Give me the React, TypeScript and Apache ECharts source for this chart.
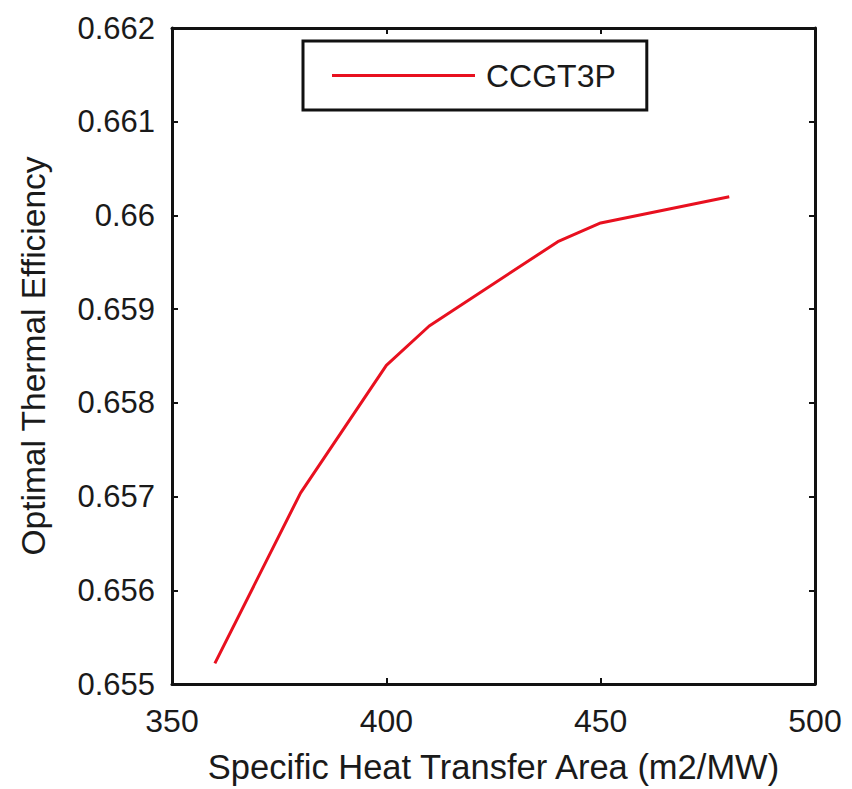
import React, { useEffect, useRef } from "react";
import * as echarts from "echarts";

const xValues = [360, 380, 400, 410, 440, 450, 480];
const efficiency = [0.65522, 0.65704, 0.6584, 0.65882, 0.65972, 0.65992, 0.6602];
const seriesName = "CCGT3P";
const xTitle = "Specific Heat Transfer Area (m2/MW)";
const yTitle = "Optimal Thermal Efficiency";

const FONT = "'Liberation Sans', Arial, sans-serif";
const TEXT = "#1a1a1a";

export default function App() {
  const ref = useRef<HTMLDivElement>(null);
  useEffect(() => {
    if (!ref.current) return;
    const chart = echarts.init(ref.current, null, { renderer: "svg" });
    const axisLine = { show: true, lineStyle: { color: "#111", width: 3 } };
    const tick = { show: true, inside: true, length: 6, lineStyle: { color: "#111", width: 2 } };
    const fmtY = (v: number) => parseFloat(v.toFixed(3)).toString();
    chart.setOption({
      animation: false,
      backgroundColor: "#ffffff",
      textStyle: { fontFamily: FONT },
      grid: { left: 172, right: 37, top: 28, bottom: 105, containLabel: false },
      legend: {
        show: true,
        left: 303,
        top: 41,
        orient: "horizontal",
        borderColor: "#111",
        borderWidth: 3,
        padding: [18, 31, 18, 29],
        itemWidth: 143,
        itemHeight: 3,
        itemGap: 10,
        textStyle: { fontFamily: FONT, fontSize: 32, color: TEXT, padding: [0, 0, 0, 6], lineHeight: 33 },
        data: [{ name: seriesName, icon: "rect", itemStyle: { color: "#e8101f" } }],
      },
      xAxis: [
        {
          type: "value",
          min: 350,
          max: 500,
          interval: 50,
          position: "bottom",
          axisLine,
          axisTick: tick,
          splitLine: { show: false },
          axisLabel: { fontFamily: FONT, fontSize: 32, color: TEXT, margin: 21 },
          name: xTitle,
          nameLocation: "middle",
          nameGap: 65,
          nameTextStyle: { fontFamily: FONT, fontSize: 34.5, color: TEXT },
        },
        {
          type: "value",
          min: 350,
          max: 500,
          interval: 50,
          position: "top",
          axisLine,
          axisTick: tick,
          splitLine: { show: false },
          axisLabel: { show: false },
        },
      ],
      yAxis: [
        {
          type: "value",
          min: 0.655,
          max: 0.662,
          interval: 0.001,
          position: "left",
          axisLine,
          axisTick: tick,
          splitLine: { show: false },
          axisLabel: { fontFamily: FONT, fontSize: 31, color: TEXT, margin: 17, formatter: fmtY },
          name: yTitle,
          nameLocation: "middle",
          nameGap: 122,
          nameTextStyle: { fontFamily: FONT, fontSize: 33.5, color: TEXT },
        },
        {
          type: "value",
          min: 0.655,
          max: 0.662,
          interval: 0.001,
          position: "right",
          axisLine,
          axisTick: tick,
          splitLine: { show: false },
          axisLabel: { show: false },
        },
      ],
      series: [
        {
          name: seriesName,
          type: "line",
          xAxisIndex: 0,
          yAxisIndex: 0,
          data: xValues.map((x, i) => [x, efficiency[i]]),
          symbol: "none",
          lineStyle: { color: "#e8101f", width: 3 },
          itemStyle: { color: "#e8101f" },
        },
      ],
    });
    return () => chart.dispose();
  }, []);
  return (
    <div
      ref={ref}
      style={{ position: "fixed", left: 0, top: 0, width: 852, height: 789 }}
    />
  );
}
